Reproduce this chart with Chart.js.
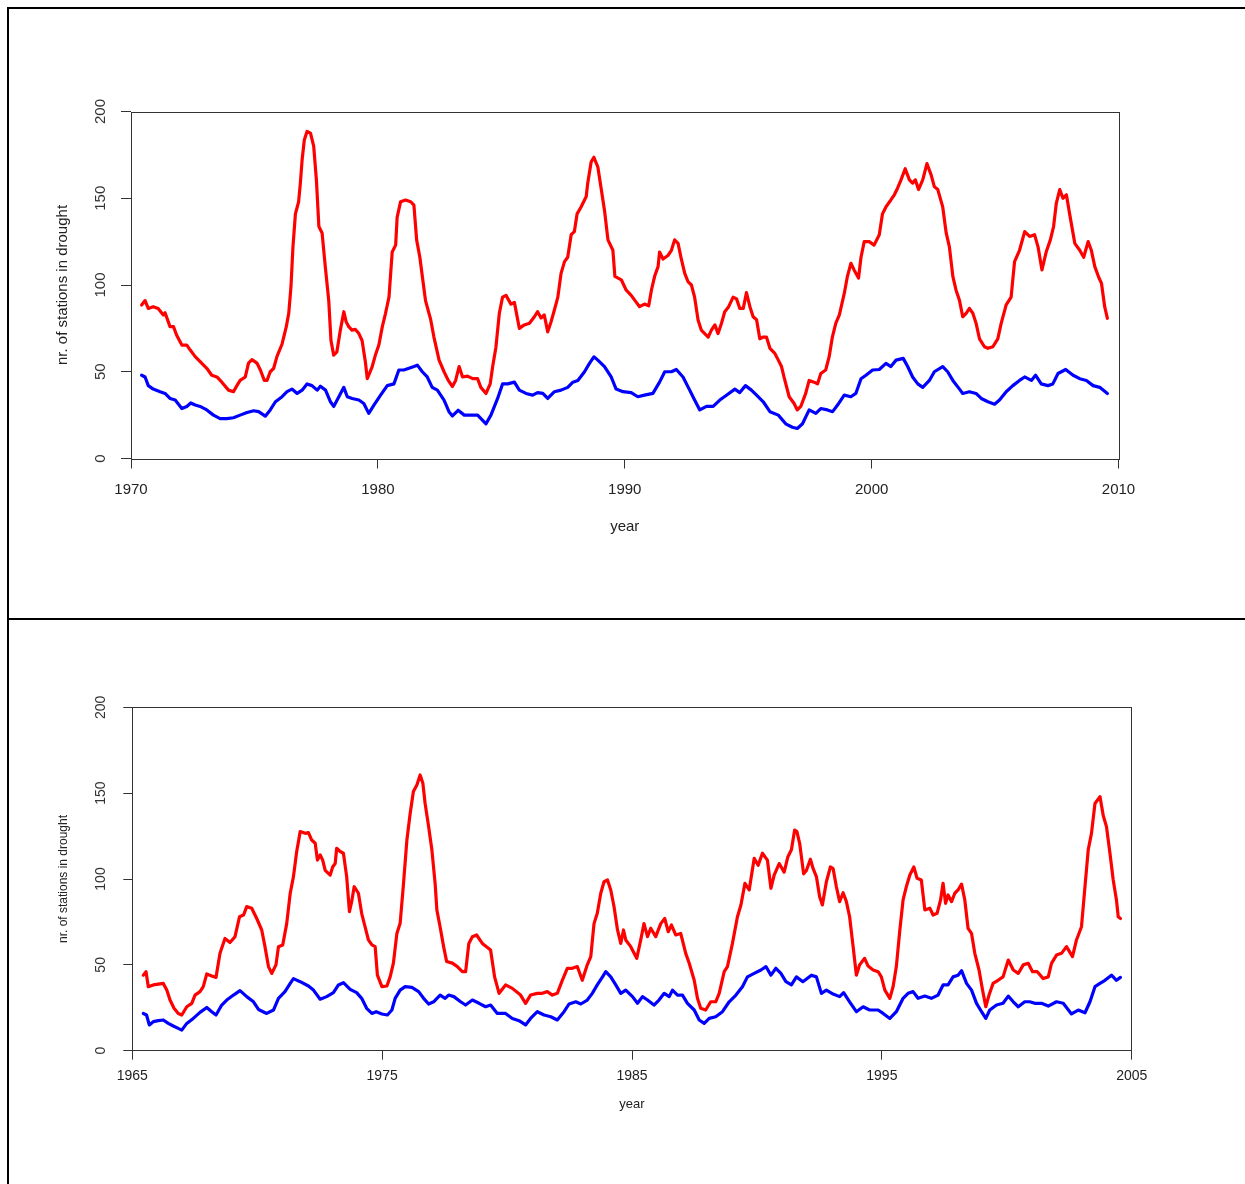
<!DOCTYPE html>
<html>
<head>
<meta charset="utf-8">
<script src="https://cdn.jsdelivr.net/npm/chart.js@4.4.1/dist/chart.umd.min.js"></script>
<style>
  body { margin: 0; background: #fff; }
  #page { position: relative; width: 1245px; height: 1184px; overflow: hidden; background: #fff; }
  .panel { position: absolute; left: 0; }
  .rule { position: absolute; background: #000; }
</style>
</head>
<body>
<div id="page">
  <div class="panel" style="top:0;"><canvas id="chartTop" width="1245" height="619"></canvas></div>
  <div class="panel" style="top:619px;"><canvas id="chartBottom" width="1245" height="565"></canvas></div>
  <div class="rule" style="left:7px; top:7px; width:1238px; height:2px;"></div>
  <div class="rule" style="left:7px; top:7px; width:2px; height:1177px;"></div>
  <div class="rule" style="left:8px; top:618px; width:1237px; height:2px;"></div>
</div>
<script>
// --- top panel: years and counts ---
const topRedYears = [1970.43,1970.57,1970.70,1970.90,1971.10,1971.31,1971.38,1971.58,1971.72,1971.85,1972.06,1972.26,1972.40,1972.60,1972.80,1973.07,1973.27,1973.48,1973.68,1973.95,1974.15,1974.29,1974.42,1974.63,1974.76,1974.90,1975.10,1975.24,1975.40,1975.51,1975.64,1975.78,1975.91,1976.12,1976.29,1976.39,1976.48,1976.56,1976.66,1976.79,1976.86,1976.93,1977.02,1977.13,1977.27,1977.40,1977.51,1977.61,1977.74,1977.87,1978.01,1978.10,1978.21,1978.34,1978.48,1978.62,1978.71,1978.82,1978.95,1979.09,1979.23,1979.36,1979.50,1979.57,1979.63,1979.77,1979.90,1980.04,1980.18,1980.31,1980.45,1980.58,1980.72,1980.78,1980.92,1981.12,1981.33,1981.46,1981.57,1981.70,1981.80,1981.93,1982.14,1982.27,1982.48,1982.68,1982.85,1983.02,1983.15,1983.29,1983.43,1983.63,1983.84,1984.04,1984.17,1984.38,1984.55,1984.65,1984.78,1984.92,1985.05,1985.19,1985.39,1985.53,1985.73,1985.93,1986.14,1986.34,1986.47,1986.61,1986.74,1986.88,1987.02,1987.15,1987.29,1987.42,1987.56,1987.69,1987.83,1987.96,1988.07,1988.23,1988.44,1988.50,1988.64,1988.75,1988.91,1989.05,1989.18,1989.32,1989.52,1989.60,1989.86,1990.06,1990.26,1990.47,1990.60,1990.80,1990.97,1991.08,1991.21,1991.35,1991.41,1991.55,1991.75,1991.89,1992.02,1992.16,1992.29,1992.43,1992.56,1992.70,1992.83,1992.97,1993.10,1993.24,1993.38,1993.51,1993.65,1993.78,1993.92,1994.05,1994.21,1994.39,1994.53,1994.66,1994.80,1994.93,1995.07,1995.20,1995.34,1995.47,1995.61,1995.74,1995.88,1996.08,1996.22,1996.35,1996.45,1996.66,1996.86,1996.99,1997.13,1997.33,1997.47,1997.67,1997.81,1997.94,1998.14,1998.28,1998.41,1998.55,1998.69,1998.89,1999.02,1999.16,1999.29,1999.47,1999.57,1999.70,1999.90,2000.10,2000.31,2000.44,2000.58,2000.78,2000.92,2001.05,2001.19,2001.36,2001.53,2001.66,2001.77,2001.90,2002.07,2002.24,2002.41,2002.54,2002.68,2002.88,2003.02,2003.15,2003.29,2003.42,2003.56,2003.69,2003.83,2003.96,2004.10,2004.23,2004.37,2004.57,2004.71,2004.91,2005.11,2005.25,2005.45,2005.65,2005.79,2005.99,2006.20,2006.40,2006.60,2006.74,2006.90,2007.07,2007.24,2007.37,2007.48,2007.62,2007.75,2007.89,2008.02,2008.23,2008.43,2008.59,2008.77,2008.90,2009.04,2009.21,2009.31,2009.44,2009.55];
const topRedValues = [88.5,91,86.5,87.5,86.5,82.7,84,76,76,71,65.4,65.4,62.5,58.7,55.8,52,48,47,44,39.4,38.5,42,45,47,55,57,55,51,45,45,50,52,58.7,66,76,83.7,99,122,141,148,158.7,172,183.6,188.5,187.5,180,160.6,133.7,130,110.6,91,68,59.6,61.5,74,84.6,79,76,74,74.4,72,68,55,46,48,53,59.6,65.4,76,83.7,93,119,123,139,148,149,148,146,126,116,105,91,80,70,56.7,50,45,41.5,45,53,47,47.5,46,46,41,37.5,43,53,64,83.7,93,94,89,90,75,77,78,81.7,84.6,81,82.7,73,79,85.6,93,106.7,113.5,116,129,130.8,141,145,151,158.7,171,173.6,168,155,143,126,120,105,103,97,94,90,87.5,89,88,97,105,110.6,119,115,117,120,126,124,115,106.7,102,100,93,79.8,74,72,70,74,77,72,78,84.6,87.5,93,92,86.5,86.5,95.6,87.5,81.7,80,69,70,70,63.5,60.6,56.7,53,47,35.6,31.7,28,30,37.5,45,44,43,49,51,58.7,70,78,82.7,95,105,112.5,108.7,104,116,125,125,123,129,141,145,149,152,155.8,160.6,167,160.6,158.7,160.6,155,160.6,170,163.5,156.7,155,145,130,122,105,97,91,81.7,83.7,86.5,83.7,78,69,64.4,63.5,64.4,69,78,88.5,93,113.5,120,130.8,128,129,122,108.7,119,126,133.7,147,155,150,152,141,124,120,116,125,120,110.6,104,101,87.5,80.8];

const topBlueYears = [1970.43,1970.57,1970.70,1970.90,1971.18,1971.38,1971.58,1971.79,1972.06,1972.26,1972.42,1972.60,1972.80,1973.07,1973.34,1973.61,1973.88,1974.15,1974.42,1974.70,1974.97,1975.17,1975.44,1975.64,1975.85,1976.12,1976.32,1976.52,1976.73,1976.93,1977.13,1977.33,1977.54,1977.67,1977.88,1978.08,1978.21,1978.42,1978.62,1978.76,1978.96,1979.23,1979.43,1979.63,1979.84,1980.11,1980.38,1980.65,1980.85,1981.05,1981.26,1981.46,1981.60,1981.80,1982.00,1982.20,1982.41,1982.68,1982.88,1983.02,1983.25,1983.50,1983.77,1984.04,1984.38,1984.58,1984.85,1985.05,1985.26,1985.53,1985.73,1986.00,1986.27,1986.47,1986.68,1986.88,1987.15,1987.42,1987.69,1987.90,1988.10,1988.37,1988.57,1988.75,1988.91,1989.18,1989.45,1989.65,1989.93,1990.26,1990.53,1990.80,1991.14,1991.41,1991.62,1991.89,1992.09,1992.36,1992.63,1992.83,1993.04,1993.31,1993.58,1993.85,1994.12,1994.46,1994.66,1994.89,1995.13,1995.34,1995.61,1995.88,1996.22,1996.52,1996.79,1996.99,1997.20,1997.47,1997.74,1997.94,1998.21,1998.42,1998.62,1998.89,1999.16,1999.36,1999.57,1999.77,2000.04,2000.31,2000.58,2000.78,2000.99,2001.28,2001.46,2001.66,2001.87,2002.07,2002.34,2002.54,2002.88,2003.08,2003.29,2003.56,2003.69,2003.96,2004.23,2004.44,2004.71,2004.98,2005.18,2005.45,2005.72,2005.99,2006.20,2006.47,2006.64,2006.87,2007.14,2007.34,2007.55,2007.86,2008.16,2008.43,2008.70,2008.97,2009.24,2009.55];
const topBlueValues = [48,47,42,40,38.5,37.5,34.6,33.7,28.8,30,32,30.8,30,28,25,23,23,23.5,25,26.5,27.5,27,24.4,28,32.7,35.6,38.5,40,37.5,39.4,43,42,39.4,41.7,39.4,32.7,30,35.6,41,35.6,34.6,33.7,31.7,26,30.8,36.5,42,43,51,51,52,53,53.8,50,47,41,39.4,33.7,27,24.5,27.8,25,25,25,20,25,34.6,43,43,44,39.4,37.5,36.5,38,37.5,34.6,38.5,39.4,41,44,45,50,54.8,58.6,56.7,53,47,40,38.5,38,35.6,36.5,37.5,44,50,50,51.3,47,39.4,33.7,28,30,30,33.7,36.5,40,38,42,39.4,36.5,32.7,27,25,20,18,17.3,20,28,26,28.8,28,27,30.8,36.5,35.6,37.5,46,48,51,51.3,54.8,53,56.7,57.7,53,47,43,41,45,50,53,50,45,40,37.5,38.5,37.5,34.6,32.7,31.3,33.7,38.5,42,45,47,45,48,43,42,43,49,51.3,48,46,45,42,41,37.5];

// --- bottom panel: years and counts ---
const bottomRedYears = [1965.44,1965.55,1965.64,1965.84,1966.04,1966.24,1966.38,1966.51,1966.67,1966.84,1966.98,1967.18,1967.38,1967.51,1967.71,1967.84,1967.98,1968.18,1968.35,1968.51,1968.71,1968.91,1969.11,1969.29,1969.45,1969.58,1969.78,1969.98,1970.18,1970.31,1970.45,1970.58,1970.75,1970.85,1971.02,1971.18,1971.32,1971.45,1971.58,1971.72,1971.92,1972.05,1972.18,1972.32,1972.41,1972.52,1972.62,1972.72,1972.92,1973.02,1973.12,1973.18,1973.32,1973.45,1973.58,1973.69,1973.78,1973.88,1974.05,1974.18,1974.32,1974.45,1974.59,1974.72,1974.81,1974.99,1975.19,1975.32,1975.45,1975.59,1975.72,1975.85,1975.99,1976.12,1976.25,1976.39,1976.52,1976.63,1976.72,1976.86,1976.99,1977.12,1977.19,1977.32,1977.46,1977.58,1977.81,1978.01,1978.21,1978.34,1978.47,1978.61,1978.78,1979.01,1979.34,1979.50,1979.68,1979.94,1980.21,1980.54,1980.74,1980.94,1981.21,1981.41,1981.61,1981.81,1982.01,1982.21,1982.41,1982.61,1982.81,1983.01,1983.21,1983.35,1983.48,1983.61,1983.75,1983.88,1984.02,1984.15,1984.28,1984.42,1984.55,1984.66,1984.75,1984.95,1985.19,1985.35,1985.48,1985.62,1985.75,1985.95,1986.15,1986.31,1986.45,1986.58,1986.75,1986.95,1987.15,1987.29,1987.49,1987.62,1987.75,1987.95,1988.15,1988.35,1988.49,1988.69,1988.82,1989.02,1989.22,1989.36,1989.52,1989.69,1989.89,1990.05,1990.22,1990.42,1990.56,1990.69,1990.89,1991.09,1991.24,1991.38,1991.51,1991.60,1991.71,1991.87,1991.98,1992.14,1992.25,1992.38,1992.51,1992.62,1992.78,1992.94,1993.05,1993.18,1993.31,1993.45,1993.58,1993.71,1993.85,1993.98,1994.11,1994.31,1994.45,1994.65,1994.85,1994.98,1995.12,1995.32,1995.45,1995.58,1995.72,1995.85,1995.98,1996.12,1996.28,1996.41,1996.58,1996.72,1996.92,1997.05,1997.21,1997.35,1997.45,1997.55,1997.65,1997.79,1997.92,1998.05,1998.19,1998.32,1998.45,1998.59,1998.72,1998.89,1999.03,1999.16,1999.29,1999.45,1999.65,1999.85,2000.06,2000.26,2000.46,2000.66,2000.86,2001.03,2001.22,2001.46,2001.66,2001.79,2001.99,2002.19,2002.39,2002.63,2002.79,2002.99,2003.13,2003.26,2003.39,2003.53,2003.73,2003.86,2003.99,2004.13,2004.26,2004.39,2004.46,2004.55];
const bottomRedValues = [44,46,37.3,38.3,38.8,39.2,35.3,29.5,24.7,21.7,20.8,25.6,27.6,32.4,34.4,37.3,44.7,43.5,42.7,56.7,65.4,63,66.4,78,79,83.9,83,77,70.3,60.6,49,45,50,60.6,61.6,74,91.7,101.4,116,127.6,126.6,127,122.7,120.8,111,114,111,105,102.3,107,109,117.9,116,115,101.4,81,86.8,95.5,91.7,80,72,64.5,61.6,60.6,44,37.3,37.7,43,51,68.3,74.2,96.5,122.7,138,151,154.8,160.6,155.7,144,130.5,117,97.5,82,72,60.6,52,51,49,46,46,62.5,66.4,67.4,62.5,58.6,43,33.4,38.3,36.3,32.4,27.6,32.4,33.4,33.4,34.4,32.4,33.4,41,48,48,49,41,50,54.8,74,80,91.7,98.4,99.4,93.6,84,70.3,62.5,70.3,64.5,60.6,53.8,64.5,74,66.4,71.3,66.4,74,77,69.3,73.2,67.4,68.3,56.7,50.9,41,30.5,24.7,23.7,28.5,28.5,33.4,46,49,62.5,78,84.9,97.5,93.6,112,108,115,111,94.6,102.3,109,104,113,117,128.5,127.6,120.8,103,105,111.5,106,101.4,89.7,84.9,98.4,107,106,95.5,86.8,92,86.8,78,60.6,44,50,53.8,49.3,47,46,43,35.3,30.5,37.3,49,70.3,87.8,95.5,102.3,107,100.4,99.4,82,83,79,80,87.8,97.5,85.8,90.7,86.8,91.7,93.6,97,87.8,71.3,68.3,56.7,47,35.3,25.6,32.4,39.2,41,43,52.8,47,45,50,50.9,46,46,42,43,50.9,55.7,56.7,60.6,54.8,64.5,72.2,95.5,117,126.6,144,148,137,130.5,115,99.4,87.8,78,77];

const bottomBlueYears = [1965.44,1965.57,1965.68,1965.84,1966.04,1966.24,1966.44,1966.64,1966.84,1966.98,1967.18,1967.44,1967.71,1967.98,1968.18,1968.35,1968.58,1968.78,1969.05,1969.31,1969.58,1969.85,1970.05,1970.38,1970.65,1970.85,1971.11,1971.32,1971.45,1971.72,1972.05,1972.25,1972.52,1972.78,1973.05,1973.25,1973.45,1973.72,1973.98,1974.18,1974.38,1974.59,1974.76,1974.99,1975.21,1975.39,1975.52,1975.72,1975.92,1976.19,1976.46,1976.66,1976.86,1977.06,1977.32,1977.52,1977.66,1977.87,1978.14,1978.34,1978.61,1978.88,1979.14,1979.34,1979.61,1979.94,1980.21,1980.48,1980.74,1980.94,1981.21,1981.48,1981.75,1982.01,1982.28,1982.48,1982.75,1982.95,1983.21,1983.41,1983.61,1983.82,1983.95,1984.15,1984.35,1984.55,1984.75,1985.02,1985.22,1985.42,1985.62,1985.88,1986.08,1986.29,1986.49,1986.62,1986.82,1987.02,1987.22,1987.49,1987.69,1987.89,1988.09,1988.35,1988.62,1988.89,1989.16,1989.42,1989.62,1989.89,1990.16,1990.36,1990.56,1990.76,1990.96,1991.16,1991.38,1991.58,1991.84,1992.18,1992.38,1992.58,1992.78,1993.05,1993.31,1993.47,1993.71,1993.98,1994.25,1994.51,1994.85,1995.05,1995.32,1995.58,1995.85,1996.05,1996.25,1996.45,1996.72,1996.98,1997.25,1997.45,1997.65,1997.85,1998.05,1998.19,1998.39,1998.59,1998.79,1998.99,1999.16,1999.32,1999.59,1999.85,2000.06,2000.26,2000.46,2000.72,2000.92,2001.12,2001.39,2001.66,2001.99,2002.26,2002.59,2002.86,2003.13,2003.33,2003.53,2003.73,2003.93,2004.19,2004.39,2004.55];
const bottomBlueValues = [21.7,20.8,15,16.9,17.5,17.9,15.9,14.4,13,12,15.9,18.8,22.3,25.2,22.7,20.8,26.6,29.5,32.4,35,31.5,28.5,24,21.7,23.7,30.5,34.4,39.2,42,40.2,37.7,35.3,30,31.5,33.8,38.3,39.6,35.7,33.8,30.5,24.7,21.7,22.7,21.4,20.8,23.7,30.5,35.3,37.3,36.9,34.4,30.5,27.2,28.5,32.4,30.5,32.4,31.5,28.5,26.6,29.5,27.6,25.6,26.6,21.7,21.7,18.8,17.5,15,18.8,22.7,20.8,19.8,17.9,22.7,27.2,28.5,27.2,29.5,33.4,38.3,43,46,43,38.3,33.4,35.3,31.5,27.6,31.5,29.5,26.6,29.5,33.4,31.5,35.3,32.4,32.4,27.6,23.7,17.9,15.9,18.8,19.8,22.7,28.5,32.4,37.3,43,45,47,49,44,48,45,40.2,38.3,43,40.2,44,43,33.4,35.3,33,31.5,33.8,28.5,22.7,25.6,23.7,23.7,21.7,18.8,22.7,30.5,33.4,34.4,30.5,31.8,30.5,32.4,38.3,38.3,43,44,46.6,39.2,35.3,27.6,22.7,18.8,23.7,26.6,27.6,31.8,28.5,25.6,28.5,28.5,27.6,27.6,26,28.5,27.6,21.4,23.7,22.1,28.5,37.3,39.2,41,44,41,42.7];

const yTicks = [0, 50, 100, 150, 200];
const yLabel = 'nr. of stations in drought';
const xLabel = 'year';

function zip(xs, ys) {
  return xs.map((x, i) => ({ x: x, y: ys[i] }));
}

// box around the plot region, like R's bty="o"
const boxPlugin = {
  id: 'plotBox',
  afterDatasetsDraw(chart) {
    const a = chart.chartArea;
    const ctx = chart.ctx;
    ctx.save();
    ctx.strokeStyle = '#333';
    ctx.lineWidth = 1;
    ctx.strokeRect(Math.round(a.left) + 0.5, Math.round(a.top) + 0.5,
      Math.round(a.right - a.left), Math.round(a.bottom - a.top));
    ctx.restore();
  }
};

function makeChart(id, p) {
  const ctx = document.getElementById(id).getContext('2d');
  const font = { family: "'Liberation Sans', Arial, sans-serif" };
  return new Chart(ctx, {
    type: 'line',
    data: {
      datasets: [
        { data: zip(p.redYears, p.redValues), borderColor: '#ff0000', borderWidth: 3.2 },
        { data: zip(p.blueYears, p.blueValues), borderColor: '#0000ff', borderWidth: 3.2 }
      ]
    },
    options: {
      responsive: false,
      animation: false,
      devicePixelRatio: 1,
      layout: { padding: { left: 0, top: p.top, right: p.W - p.right, bottom: 0 } },
      elements: {
        point: { radius: 0 },
        line: { tension: 0, borderJoinStyle: 'round', borderCapStyle: 'round', fill: false }
      },
      plugins: { legend: { display: false }, tooltip: { enabled: false } },
      scales: {
        x: {
          type: 'linear',
          min: p.xMin, max: p.xMax,
          afterFit(scale) { scale.height = p.H - p.bottom; },
          border: { display: false },
          grid: { drawOnChartArea: false, drawTicks: true, tickLength: p.tl, color: '#333' },
          ticks: {
            stepSize: 10, padding: p.xPad, color: '#222', maxRotation: 0,
            font: Object.assign({ size: p.tickSize }, font),
            callback: v => String(v)
          },
          title: {
            display: true, text: xLabel, color: '#222',
            font: Object.assign({ size: p.titleSize }, font),
            padding: { top: 0, bottom: p.xTitlePad }
          }
        },
        y: {
          min: 0, max: 200,
          afterFit(scale) { scale.width = p.left; },
          afterBuildTicks(scale) { scale.ticks = yTicks.map(v => ({ value: v })); },
          border: { display: false },
          grid: { drawOnChartArea: false, drawTicks: true, tickLength: p.tl, color: '#333' },
          ticks: {
            padding: p.yPad, color: '#333', minRotation: 90, maxRotation: 90,
            crossAlign: 'center',
            font: Object.assign({ size: p.tickSize }, font),
            callback: v => String(v)
          },
          title: {
            display: true, text: yLabel, color: '#222',
            font: Object.assign({ size: p.yTitleSize }, font),
            padding: { top: p.yTitlePad, bottom: 0 }
          }
        }
      }
    },
    plugins: [boxPlugin]
  });
}

makeChart('chartTop', {
  W: 1245, H: 619, left: 131, top: 111.5, right: 1118.5, bottom: 458.5,
  xMin: 1970, xMax: 2010, tl: 10, xPad: 12, yPad: 7.5,
  tickSize: 15, titleSize: 15, yTitleSize: 15, xTitlePad: 83, yTitlePad: 54,
  redYears: topRedYears, redValues: topRedValues,
  blueYears: topBlueYears, blueValues: topBlueValues
});

makeChart('chartBottom', {
  W: 1245, H: 565, left: 132.3, top: 88.3, right: 1131.7, bottom: 431.7,
  xMin: 1965, xMax: 2005, tl: 9, xPad: 8, yPad: 10.5,
  tickSize: 14, titleSize: 13, yTitleSize: 12, xTitlePad: 72, yTitlePad: 56,
  redYears: bottomRedYears, redValues: bottomRedValues,
  blueYears: bottomBlueYears, blueValues: bottomBlueValues
});
</script>
</body>
</html>
